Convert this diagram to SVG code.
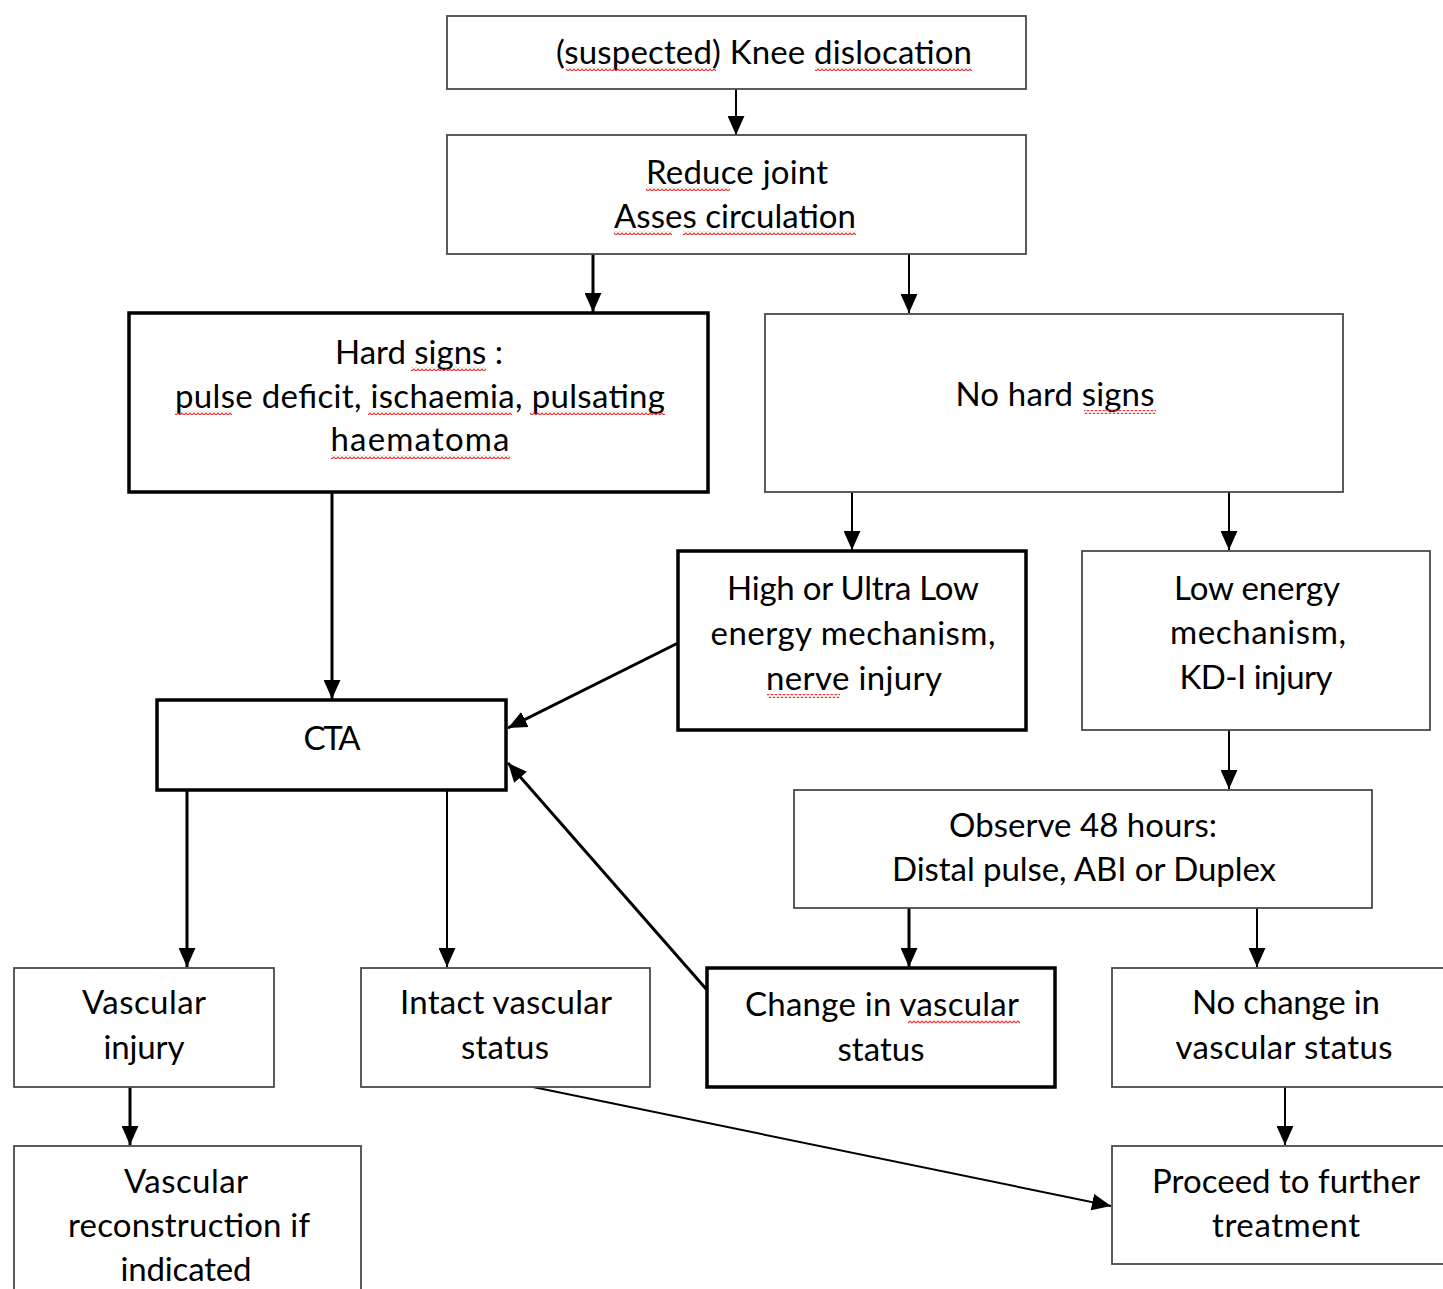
<svg xmlns="http://www.w3.org/2000/svg" width="1443" height="1289" viewBox="0 0 1443 1289">
<style>
.thin{fill:#fff;stroke:#4a4a4a;stroke-width:1.8}
.thick{fill:#fff;stroke:#000;stroke-width:3.5}
text{font-family:Lato,"Open Sans","Liberation Sans",sans-serif;font-size:33px;fill:#000;text-anchor:middle}
.c{fill:none;stroke:#000;stroke-width:2}
.cb{fill:none;stroke:#000;stroke-width:3}
.sq{fill:url(#squig)}
</style>
<defs>
<marker id="ah" viewBox="0 0 18 16" refX="18" refY="8" markerWidth="19" markerHeight="17" markerUnits="userSpaceOnUse" orient="auto">
<path d="M0,0 L18,8 L0,16 z" fill="#000"/>
</marker>
<pattern id="squig" patternUnits="userSpaceOnUse" width="4" height="4">
<path d="M0,3 L2,1 L4,3" fill="none" stroke="#e03333" stroke-width="1.1"/>
</pattern>
</defs>
<g id="connectors">
<line class="c" x1="736" y1="89" x2="736" y2="135" marker-end="url(#ah)"/>
<line class="cb" x1="593" y1="254" x2="593" y2="312" marker-end="url(#ah)"/>
<line class="c" x1="909" y1="254" x2="909" y2="313" marker-end="url(#ah)"/>
<line class="c" x1="852" y1="492" x2="852" y2="550" marker-end="url(#ah)"/>
<line class="c" x1="1229" y1="492" x2="1229" y2="550" marker-end="url(#ah)"/>
<line class="cb" x1="332" y1="492" x2="332" y2="699" marker-end="url(#ah)"/>
<line class="cb" x1="678" y1="643" x2="508" y2="728" marker-end="url(#ah)"/>
<line class="c" x1="1229" y1="730" x2="1229" y2="789" marker-end="url(#ah)"/>
<line class="cb" x1="187" y1="790" x2="187" y2="967" marker-end="url(#ah)"/>
<line class="c" x1="447" y1="790" x2="447" y2="967" marker-end="url(#ah)"/>
<line class="cb" x1="909" y1="908" x2="909" y2="967" marker-end="url(#ah)"/>
<line class="c" x1="1257" y1="908" x2="1257" y2="967" marker-end="url(#ah)"/>
<line class="cb" x1="707" y1="990" x2="508" y2="763" marker-end="url(#ah)"/>
<line class="cb" x1="130" y1="1087" x2="130" y2="1145" marker-end="url(#ah)"/>
<line class="c" x1="533" y1="1087" x2="1111" y2="1206" marker-end="url(#ah)"/>
<line class="c" x1="1285" y1="1087" x2="1285" y2="1145" marker-end="url(#ah)"/>
</g>
<g id="n1">
<rect class="thin" x="447" y="16" width="579" height="73"/>
<text x="764" y="64" textLength="416">(suspected) Knee dislocation</text>
<rect class="sq" x="566" y="67" width="150" height="4"/>
<rect class="sq" x="815" y="67" width="157" height="4"/>
</g>
<g id="n2">
<rect class="thin" x="447" y="135" width="579" height="119"/>
<text x="737" y="184" textLength="182">Reduce joint</text>
<text x="735" y="228" textLength="242">Asses circulation</text>
<rect class="sq" x="646" y="187" width="84" height="4"/>
<rect class="sq" x="614" y="231" width="58" height="4"/>
<rect class="sq" x="683" y="231" width="173" height="4"/>
</g>
<g id="n3">
<rect class="thick" x="129" y="313" width="579" height="179"/>
<text x="419" y="364" textLength="168">Hard signs :</text>
<text x="420" y="408" textLength="490">pulse deficit, ischaemia, pulsating</text>
<text x="420" y="451" textLength="179">haematoma</text>
<rect class="sq" x="411" y="367" width="75" height="4"/>
<rect class="sq" x="175" y="411" width="57" height="4"/>
<rect class="sq" x="368" y="411" width="144" height="4"/>
<rect class="sq" x="530" y="411" width="135" height="4"/>
<rect class="sq" x="331" y="455" width="179" height="4"/>
</g>
<g id="n4">
<rect class="thin" x="765" y="314" width="578" height="178"/>
<text x="1055" y="406" textLength="199">No hard signs</text>
<rect class="sq" x="1084" y="410" width="72" height="4"/>
</g>
<g id="n5">
<rect class="thick" x="678" y="551" width="348" height="179"/>
<text x="853" y="600" textLength="252">High or Ultra Low</text>
<text x="853" y="645" textLength="285">energy mechanism,</text>
<text x="854" y="690" textLength="176">nerve injury</text>
<rect class="sq" x="767" y="694" width="73" height="4"/>
</g>
<g id="n6">
<rect class="thin" x="1082" y="551" width="348" height="179"/>
<text x="1257" y="600" textLength="166">Low energy</text>
<text x="1258" y="644" textLength="176">mechanism,</text>
<text x="1256" y="689" textLength="153">KD-I injury</text>
</g>
<g id="n7">
<rect class="thick" x="157" y="700" width="349" height="90"/>
<text x="332" y="750" textLength="57">CTA</text>
</g>
<g id="n8">
<rect class="thin" x="794" y="790" width="578" height="118"/>
<text x="1083" y="837" textLength="268">Observe 48 hours:</text>
<text x="1084" y="881" textLength="384">Distal pulse, ABI or Duplex</text>
</g>
<g id="n9">
<rect class="thin" x="14" y="968" width="260" height="119"/>
<text x="144" y="1014" textLength="124">Vascular</text>
<text x="144" y="1059" textLength="81">injury</text>
</g>
<g id="n10">
<rect class="thin" x="361" y="968" width="289" height="119"/>
<text x="506" y="1014" textLength="212">Intact vascular</text>
<text x="505" y="1059" textLength="88">status</text>
</g>
<g id="n11">
<rect class="thick" x="707" y="968" width="348" height="119"/>
<text x="882" y="1016" textLength="274">Change in vascular</text>
<text x="881" y="1061" textLength="87">status</text>
<rect class="sq" x="908" y="1020" width="112" height="4"/>
</g>
<g id="n12">
<rect class="thin" x="1112" y="968" width="340" height="119"/>
<text x="1286" y="1014" textLength="188">No change in</text>
<text x="1284" y="1059" textLength="217">vascular status</text>
</g>
<g id="n13">
<rect class="thin" x="14" y="1146" width="347" height="160"/>
<text x="186" y="1193" textLength="124">Vascular</text>
<text x="189" y="1237" textLength="242">reconstruction if</text>
<text x="186" y="1281" textLength="131">indicated</text>
</g>
<g id="n14">
<rect class="thin" x="1112" y="1146" width="340" height="118"/>
<text x="1286" y="1193" textLength="268">Proceed to further</text>
<text x="1286" y="1237" textLength="148">treatment</text>
</g>
</svg>
